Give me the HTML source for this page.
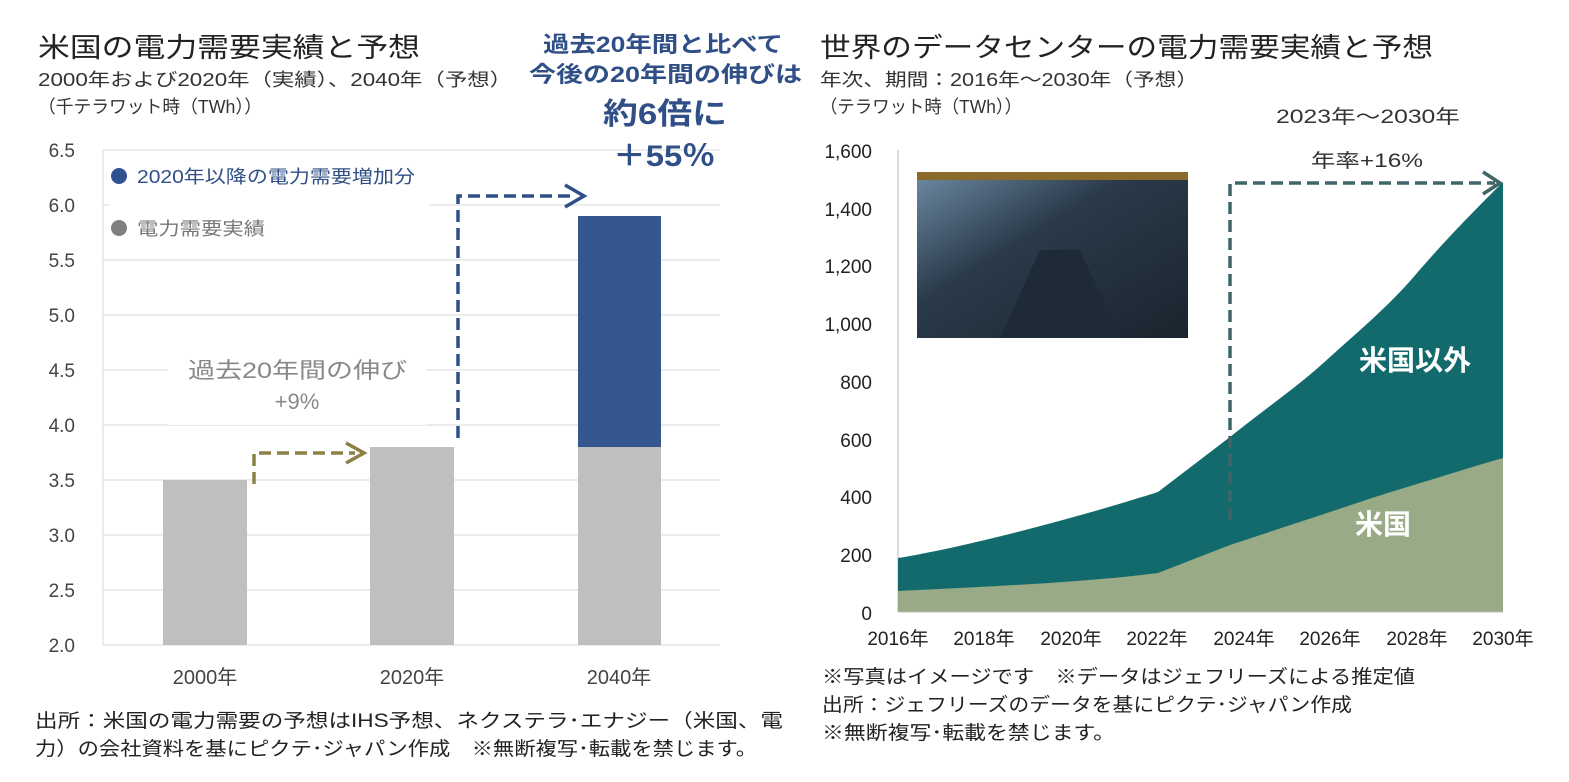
<!DOCTYPE html>
<html><head><meta charset="utf-8"><style>
body{margin:0;background:#fff;width:1569px;height:777px;overflow:hidden;font-family:"Liberation Sans","Noto Sans CJK JP",sans-serif;}
</style></head><body>
<svg width="1569" height="777" xmlns="http://www.w3.org/2000/svg" style="font-family:'Liberation Sans','Noto Sans CJK JP',sans-serif">
<defs>
<linearGradient id="img" x1="0" y1="0" x2="1" y2="1">
<stop offset="0" stop-color="#6d8aa3"/><stop offset="0.4" stop-color="#2a3a4a"/><stop offset="1" stop-color="#1a242e"/>
</linearGradient>
</defs>
<!-- LEFT -->
<text x="38" y="57" font-size="27" fill="#222" textLength="382" lengthAdjust="spacingAndGlyphs">米国の電力需要実績と予想</text>
<text x="38" y="86" font-size="18" fill="#333" textLength="474" lengthAdjust="spacingAndGlyphs">2000年および2020年（実績）、2040年（予想）</text>
<text x="38" y="113" font-size="18" fill="#333" textLength="224" lengthAdjust="spacingAndGlyphs">（千テラワット時（TWh））</text>
<g stroke="#d9d9d9" stroke-width="1">
<line x1="103" y1="150" x2="720" y2="150"/><line x1="103" y1="205" x2="720" y2="205"/><line x1="103" y1="260" x2="720" y2="260"/><line x1="103" y1="315" x2="720" y2="315"/><line x1="103" y1="370" x2="720" y2="370"/><line x1="103" y1="425" x2="720" y2="425"/><line x1="103" y1="480" x2="720" y2="480"/><line x1="103" y1="535" x2="720" y2="535"/><line x1="103" y1="590" x2="720" y2="590"/><line x1="103" y1="645" x2="720" y2="645"/>
<line x1="103" y1="150" x2="103" y2="645"/>
</g>
<g font-size="19" fill="#444" text-anchor="end">
<text x="75" y="157">6.5</text><text x="75" y="212">6.0</text><text x="75" y="267">5.5</text><text x="75" y="322">5.0</text><text x="75" y="377">4.5</text><text x="75" y="432">4.0</text><text x="75" y="487">3.5</text><text x="75" y="542">3.0</text><text x="75" y="597">2.5</text><text x="75" y="652">2.0</text>
</g>
<rect x="109" y="160" width="320" height="80" fill="#fff"/>
<circle cx="119" cy="176" r="8" fill="#2f5290"/>
<text x="137" y="183" font-size="18" fill="#2f4f86" textLength="278" lengthAdjust="spacingAndGlyphs">2020年以降の電力需要増加分</text>
<circle cx="119" cy="228" r="8" fill="#808080"/>
<text x="137" y="235" font-size="18" fill="#777" textLength="128" lengthAdjust="spacingAndGlyphs">電力需要実績</text>
<rect x="163" y="480" width="84" height="165" fill="#bfbfbf"/>
<rect x="370" y="447" width="84" height="198" fill="#bfbfbf"/>
<rect x="578" y="447" width="83" height="198" fill="#bfbfbf"/>
<rect x="578" y="216" width="83" height="231" fill="#35578d"/>
<rect x="168" y="355" width="258" height="70" fill="#fff"/>
<text x="188" y="378" font-size="22" fill="#888" textLength="219" lengthAdjust="spacingAndGlyphs">過去20年間の伸び</text>
<text x="297" y="409" font-size="22" fill="#888" text-anchor="middle">+9%</text>
<g fill="none" stroke="#8b8048" stroke-width="3.5" stroke-dasharray="12,6">
<polyline points="254,484 254,453 355,453"/>
</g>
<polyline points="346,443 364,453 346,463" fill="none" stroke="#8b8048" stroke-width="3.5"/>
<g fill="none" stroke="#2f4f86" stroke-width="3.5" stroke-dasharray="12,6">
<polyline points="458,438 458,196 575,196"/>
</g>
<polyline points="565,185 584,196 565,207" fill="none" stroke="#2f4f86" stroke-width="3.5"/>
<text x="543" y="52" font-size="22" fill="#2f4f86" font-weight="bold" textLength="240" lengthAdjust="spacingAndGlyphs">過去20年間と比べて</text>
<text x="529" y="82" font-size="22" fill="#2f4f86" font-weight="bold" textLength="273" lengthAdjust="spacingAndGlyphs">今後の20年間の伸びは</text>
<text x="603" y="124" font-size="30" fill="#2f4f86" font-weight="bold" textLength="124" lengthAdjust="spacingAndGlyphs">約6倍に</text>
<text x="613" y="166" font-size="30" fill="#2f4f86" font-weight="bold" textLength="102" lengthAdjust="spacingAndGlyphs">＋55％</text>
<g font-size="20" fill="#444" text-anchor="middle">
<text x="205" y="684">2000年</text><text x="412" y="684">2020年</text><text x="619" y="684">2040年</text>
</g>
<text x="35" y="727" font-size="19" fill="#222" textLength="748" lengthAdjust="spacingAndGlyphs">出所：米国の電力需要の予想はIHS予想、ネクステラ･エナジー（米国、電</text>
<text x="35" y="755" font-size="19" fill="#222" textLength="722" lengthAdjust="spacingAndGlyphs">力）の会社資料を基にピクテ･ジャパン作成　※無断複写･転載を禁じます。</text>

<!-- RIGHT -->
<text x="820" y="57" font-size="27" fill="#222" textLength="613" lengthAdjust="spacingAndGlyphs">世界のデータセンターの電力需要実績と予想</text>
<text x="820" y="86" font-size="18" fill="#333" textLength="378" lengthAdjust="spacingAndGlyphs">年次、期間：2016年～2030年（予想）</text>
<text x="820" y="113" font-size="18" fill="#333" textLength="202" lengthAdjust="spacingAndGlyphs">（テラワット時（TWh））</text>
<g font-size="19" fill="#222" text-anchor="end">
<text x="872" y="158">1,600</text><text x="872" y="216">1,400</text><text x="872" y="273">1,200</text><text x="872" y="331">1,000</text><text x="872" y="389">800</text><text x="872" y="447">600</text><text x="872" y="504">400</text><text x="872" y="562">200</text><text x="872" y="620">0</text>
</g>
<line x1="898" y1="150" x2="898" y2="612" stroke="#bbb"/>
<path d="M898,558 C960,548 1070,520 1158,492 L1230,437 C1270,405 1300,385 1330,357 C1360,330 1390,305 1417,273 C1450,235 1475,210 1503,182 L1503,612 L898,612 Z" fill="#136a6d"/>
<path d="M898,591 C960,588 1080,583 1158,573 L1230,545 L1330,512 C1360,502 1390,492 1417,484 C1450,474 1475,466 1503,458 L1503,612 L898,612 Z" fill="#98aa86"/>
<line x1="898" y1="612" x2="1503" y2="612" stroke="#bbb"/>
<rect x="917" y="172" width="271" height="166" fill="url(#img)"/>
<rect x="917" y="172" width="271" height="8" fill="#8a6a2a"/>
<polygon points="1040,250 1080,250 1120,338 1000,338" fill="#1e2a36"/>
<g fill="none" stroke="#3f6568" stroke-width="3.5" stroke-dasharray="12,6">
<polyline points="1230,520 1230,183 1495,183"/>
</g>
<polyline points="1483,172 1500,183 1483,194" fill="none" stroke="#3f6568" stroke-width="3.5"/>
<text x="1276" y="123" font-size="19" fill="#333" textLength="184" lengthAdjust="spacingAndGlyphs">2023年～2030年</text>
<text x="1311" y="167" font-size="19" fill="#333" textLength="112" lengthAdjust="spacingAndGlyphs">年率+16%</text>
<text x="1415" y="370" font-size="28" fill="#fff" text-anchor="middle" font-weight="bold">米国以外</text>
<text x="1383" y="534" font-size="28" fill="#fff" text-anchor="middle" font-weight="bold">米国</text>
<g font-size="19" fill="#222" text-anchor="middle">
<text x="898" y="645">2016年</text><text x="984" y="645">2018年</text><text x="1071" y="645">2020年</text><text x="1157" y="645">2022年</text><text x="1244" y="645">2024年</text><text x="1330" y="645">2026年</text><text x="1417" y="645">2028年</text><text x="1503" y="645">2030年</text>
</g>
<text x="822" y="683" font-size="19" fill="#222" textLength="593" lengthAdjust="spacingAndGlyphs">※写真はイメージです　※データはジェフリーズによる推定値</text>
<text x="822" y="711" font-size="19" fill="#222" textLength="530" lengthAdjust="spacingAndGlyphs">出所：ジェフリーズのデータを基にピクテ･ジャパン作成</text>
<text x="822" y="739" font-size="19" fill="#222" textLength="293" lengthAdjust="spacingAndGlyphs">※無断複写･転載を禁じます。</text>
</svg>
</body></html>
